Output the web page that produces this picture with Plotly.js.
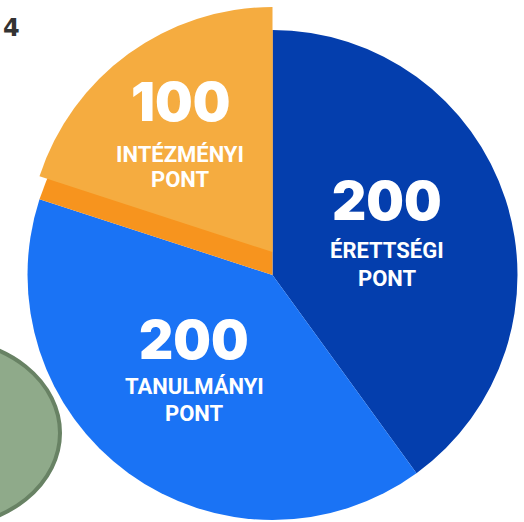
<!DOCTYPE html>
<html>
<head>
<meta charset="utf-8">
<script src="https://cdn.plot.ly/plotly-3.0.1.min.js"></script>
<style>
html,body{margin:0;padding:0;background:#fff;}
#chart{width:524px;height:522px;}
</style>
</head>
<body>
<div id="chart"></div>
<script>
// Data
const categories = ["ÉRETTSÉGI", "TANULMÁNYI", "INTÉZMÉNYI"];
const unitLabel = "PONT";
const values = [200, 200, 100];
const sliceColors = ["#043EAD", "#1A73F5", "#F7941E"];
const topFaceColor = "#F5AC40";

const W = 524, H = 522;
const px = x => x / W;
const py = y => 1 - y / H;

// pie geometry (pixels)
const cx = 272.5, cy = 275, r = 245, lift = 23;

const baseTrace = {
  type: "pie",
  values: values,
  labels: categories,
  sort: false,
  direction: "clockwise",
  rotation: 0,
  textinfo: "none",
  hoverinfo: "none",
  showlegend: false,
  marker: { colors: sliceColors, line: { width: 0 } },
  domain: { x: [px(cx - r), px(cx + r)], y: [py(cy + r), py(cy - r)] }
};

const liftedTrace = Object.assign({}, baseTrace, {
  marker: { colors: ["rgba(0,0,0,0)", "rgba(0,0,0,0)", topFaceColor], line: { width: 0 } },
  domain: { x: [px(cx - r), px(cx + r)], y: [py(cy - lift + r), py(cy - lift - r)] }
});

// label positions (pixels) for each slice
const labelPos = [
  { x: 387, num: 201, name: 250, unit: 278 },
  { x: 194, num: 340, name: 386, unit: 413 },
  { x: 180, num: 102, name: 154, unit: 179 }
];

const annotations = [];
values.forEach((v, i) => {
  const p = labelPos[i];
  annotations.push({
    xref: "paper", yref: "paper", x: px(p.x), y: py(p.num),
    text: String(v), showarrow: false, xanchor: "center", yanchor: "middle",
    font: { family: "Inter, DejaVu Sans", size: 53, color: "#ffffff", weight: 900 }
  });
  annotations.push({
    xref: "paper", yref: "paper", x: px(p.x), y: py(p.name),
    text: categories[i], showarrow: false, xanchor: "center", yanchor: "middle",
    font: { family: "Roboto", size: 22, color: "#ffffff", weight: 700 }
  });
  annotations.push({
    xref: "paper", yref: "paper", x: px(p.x), y: py(p.unit),
    text: unitLabel, showarrow: false, xanchor: "center", yanchor: "middle",
    font: { family: "Roboto", size: 22, color: "#ffffff", weight: 700 }
  });
});
annotations.push({
  xref: "paper", yref: "paper", x: px(1), y: py(28),
  text: "4", showarrow: false, xanchor: "left", yanchor: "middle",
  font: { family: "DejaVu Sans", size: 24, color: "#333333", weight: 700 }
});

const layout = {
  width: W, height: H,
  margin: { l: 0, r: 0, t: 0, b: 0 },
  paper_bgcolor: "#ffffff",
  annotations: annotations,
  shapes: [{
    type: "circle", xref: "paper", yref: "paper",
    x0: px(-175), x1: px(60), y0: py(527), y1: py(339),
    fillcolor: "#8FAA8A", line: { color: "#688264", width: 4 }, layer: "above"
  }]
};

Plotly.newPlot("chart", [baseTrace, liftedTrace], layout, { displayModeBar: false, staticPlot: true });
</script>
</body>
</html>
